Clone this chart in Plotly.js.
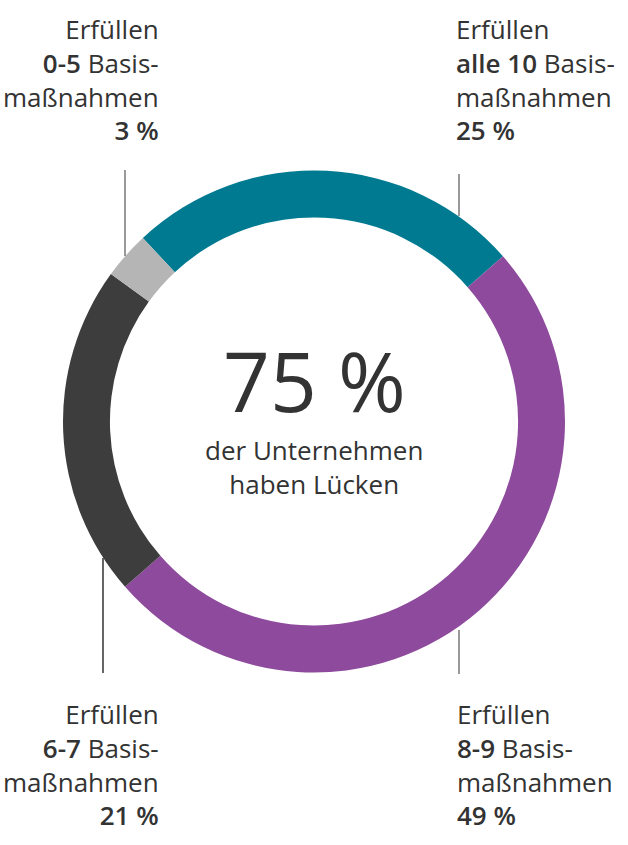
<!DOCTYPE html>
<html>
<head>
<meta charset="utf-8">
<script src="https://cdn.plot.ly/plotly-3.0.1.min.js"></script>
<style>html,body{margin:0;padding:0;background:#fff;}#chart{width:628px;height:845px;}</style>
</head>
<body>
<div id="chart"></div>
<script>
// Data
const categories = ["alle 10", "8-9", "6-7", "0-5"];
const shares = [25, 49, 21, 3];
const shareLabels = ["25 %", "49 %", "21 %", "3 %"];
const colors = ["#007a91", "#8e4a9c", "#3d3d3d", "#b5b5b5"];
const centerValue = "75 %";
const centerText = ["der Unternehmen", "haben Lücken"];

const W = 628, H = 845;
const px = x => x / W;
const py = y => 1 - y / H;

const cx = 314, cy = 421.5, R = 251;

const trace = {
  type: "pie",
  values: shares,
  labels: categories,
  marker: { colors: colors, line: { width: 0 } },
  hole: 0.813,
  sort: false,
  direction: "clockwise",
  rotation: -43,
  textinfo: "none",
  hoverinfo: "none",
  showlegend: false,
  domain: { x: [px(cx - R), px(cx + R)], y: [py(cy + R), py(cy - R)] }
};

const FONT = "Open Sans, sans-serif";
const TXT = "#333333";

function strong(s) {
  return '<span style="font-weight:600">' + s + '</span>';
}
function labelText(i) {
  return "Erfüllen<br>" + strong(categories[i]) + " Basis-<br>maßnahmen<br>" + strong(shareLabels[i]);
}

// label placement: [index, x, y, xanchor]
const labelPos = [
  [3, 161, 9, "right"],
  [0, 454, 9, "left"],
  [2, 161, 694, "right"],
  [1, 455, 694, "left"]
];

const annotations = labelPos.map(([i, x, y, xa]) => ({
  xref: "paper", yref: "paper",
  x: px(x), y: py(y),
  xanchor: xa, yanchor: "top",
  align: xa,
  showarrow: false,
  text: labelText(i),
  font: { family: FONT, size: 26, color: TXT, weight: 400 }
}));

annotations.push({
  xref: "paper", yref: "paper",
  x: px(314), y: py(438),
  xanchor: "center", yanchor: "bottom",
  showarrow: false,
  text: centerValue,
  font: { family: FONT, size: 82, color: TXT, weight: 500 }
});
annotations.push({
  xref: "paper", yref: "paper",
  x: px(314), y: py(430),
  xanchor: "center", yanchor: "top",
  showarrow: false,
  text: centerText.join("<br>"),
  font: { family: FONT, size: 26, color: TXT }
});

const lineDefs = [
  [125, 170, 256, "#777777"],
  [459, 174, 216, "#777777"],
  [103, 558, 673, "#333333"],
  [459, 630, 674, "#777777"]
];
const shapes = lineDefs.map(([x, y0, y1, c]) => ({
  type: "line", xref: "paper", yref: "paper",
  x0: px(x), x1: px(x), y0: py(y0), y1: py(y1),
  line: { color: c, width: 1.5 }
}));

const layout = {
  width: W, height: H,
  margin: { l: 0, r: 0, t: 0, b: 0, pad: 0 },
  paper_bgcolor: "#ffffff",
  plot_bgcolor: "#ffffff",
  showlegend: false,
  annotations: annotations,
  shapes: shapes
};

Plotly.newPlot("chart", [trace], layout, { displayModeBar: false, staticPlot: true });
</script>
</body>
</html>
